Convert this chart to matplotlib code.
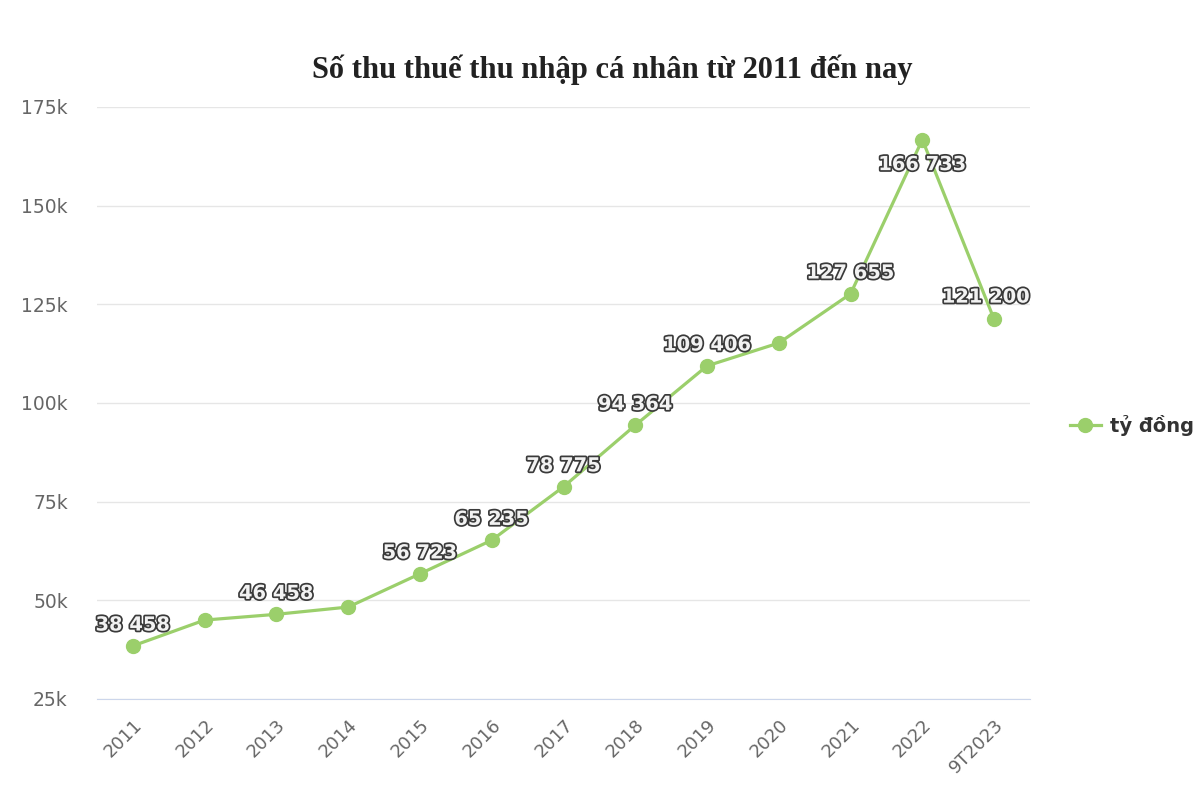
import matplotlib
matplotlib.use("Agg")
import matplotlib.pyplot as plt
import matplotlib.patheffects as pe
from matplotlib.ticker import FuncFormatter

# Thu thuế TNCN (tỷ đồng)
years = ["2011", "2012", "2013", "2014", "2015", "2016", "2017",
         "2018", "2019", "2020", "2021", "2022", "9T2023"]
values = [38458, 45000, 46458, 48300, 56723, 65235, 78775,
          94364, 109406, 115200, 127655, 166733, 121200]
# nhãn hiển thị (None = bị ẩn do chồng chữ)
labels = ["38 458", None, "46 458", None, "56 723", "65 235", "78 775",
          "94 364", "109 406", None, "127 655", "166 733", "121 200"]

green = "#9bcf6b"

fig = plt.figure(figsize=(12, 8), dpi=100)
ax = fig.add_axes([97 / 1200, 1 - 699 / 800, 933 / 1200, 592 / 800])

x = list(range(len(years)))
ax.plot(x, values, color=green, lw=2.3, marker="o", ms=10, zorder=3,
        label="tỷ đồng")

outline = [pe.withStroke(linewidth=2.5, foreground="#3a3a3a")]
for i, (v, lab) in enumerate(zip(values, labels)):
    if lab is None:
        continue
    dx, dy = 0, 15
    if i == len(values) - 2:
        dy = -18
    if i == len(values) - 1:
        dx, dy = -6, 16
    t = ax.annotate(lab, (i, v), xytext=(dx, dy), textcoords="offset points",
                    ha="center", va="center", fontsize=14, fontweight="bold",
                    color="#f2f2f2", zorder=5)
    t.set_path_effects(outline)

ax.set_xlim(-0.5, len(years) - 0.5)
ax.set_ylim(25000, 175000)
ax.set_yticks(range(25000, 175001, 25000))
ax.yaxis.set_major_formatter(FuncFormatter(lambda v, p: f"{int(v / 1000)}k"))
ax.set_xticks(x)
ax.set_xticklabels(years, rotation=45, ha="right", rotation_mode="anchor")

ax.grid(axis="y", color="#e6e6e6", lw=1)
ax.set_axisbelow(True)
for s in ["top", "right", "left"]:
    ax.spines[s].set_visible(False)
ax.spines["bottom"].set_color("#ccd6eb")
ax.tick_params(axis="both", length=0, colors="#666666")
ax.tick_params(axis="y", pad=21, labelsize=13.5)
ax.tick_params(axis="x", pad=12, labelsize=13)

fig.text(612 / 1200, 1 - 70 / 800, "Số thu thuế thu nhập cá nhân từ 2011 đến nay",
         ha="center", va="center", fontsize=22, fontweight="bold",
         family="Liberation Serif", color="#222222")

fig.legend(loc="center left", bbox_to_anchor=(1062 / 1200, 1 - 425 / 800),
           frameon=False, handlelength=1.6, handletextpad=0.46,
           borderaxespad=0, prop={"size": 14, "weight": "bold"},
           labelcolor="#333333")

fig.savefig("out.png", dpi=100, facecolor="white")
